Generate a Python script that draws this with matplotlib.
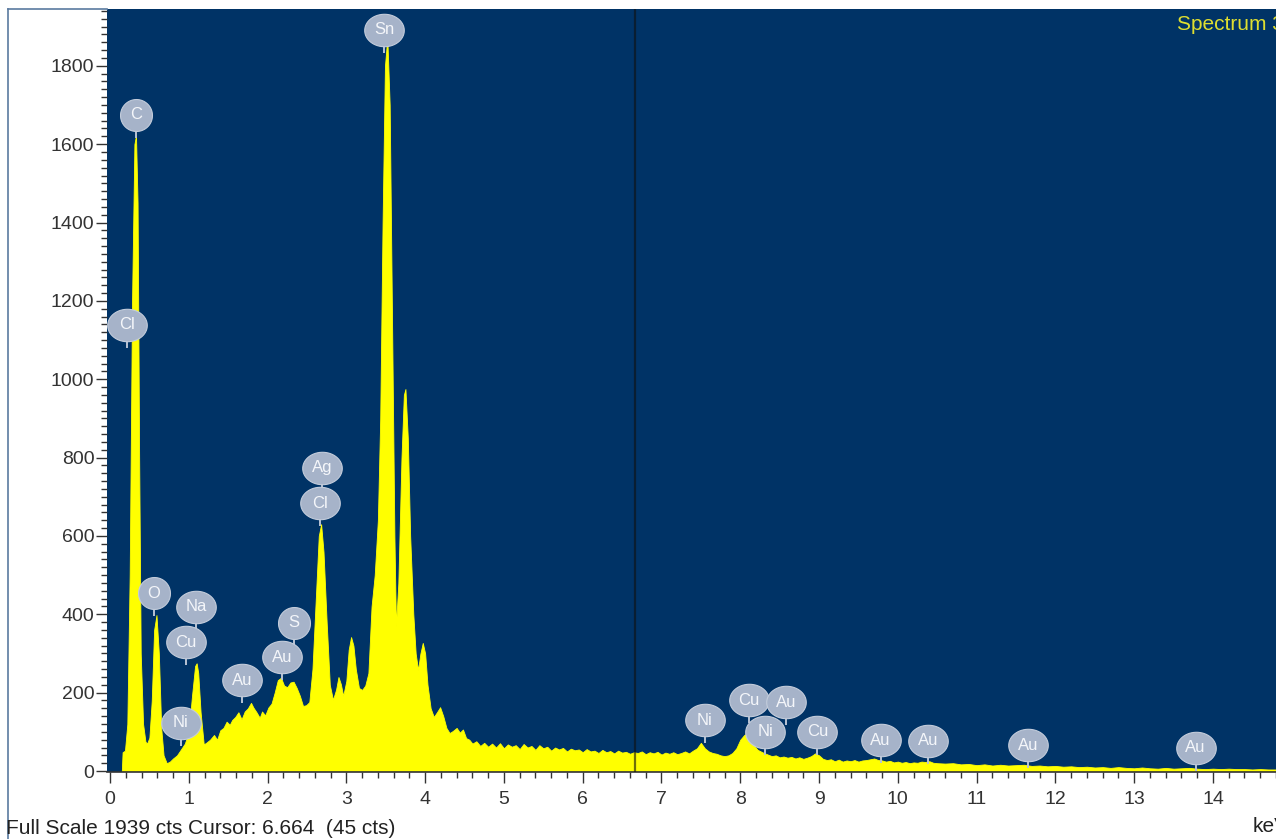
#!/usr/bin/env python3
"""
EDS spectrum plot: counts vs energy with element markers and cursor line.
Writes out.png.
"""

import matplotlib
matplotlib.use("Agg")
import matplotlib.pyplot as plt
from matplotlib.lines import Line2D
from matplotlib.path import Path
from matplotlib.transforms import offset_copy
import numpy as np

# Spectrum (keV, counts)
energy_kev = [
    0.15, 0.16, 0.19, 0.22, 0.25, 0.28, 0.31, 0.33, 0.35, 0.37, 0.39, 0.42,
    0.45, 0.47, 0.50, 0.53, 0.56, 0.59, 0.62, 0.65, 0.68, 0.72, 0.76, 0.80,
    0.85, 0.90, 0.95, 1.00, 1.04, 1.08, 1.10, 1.12, 1.15, 1.19, 1.22, 1.27,
    1.32, 1.36, 1.40, 1.44, 1.48, 1.52, 1.55, 1.59, 1.63, 1.67, 1.71, 1.75,
    1.79, 1.82, 1.86, 1.90, 1.93, 1.97, 2.01, 2.05, 2.09, 2.13, 2.17, 2.21,
    2.25, 2.29, 2.33, 2.37, 2.41, 2.45, 2.49, 2.53, 2.57, 2.61, 2.65, 2.68,
    2.71, 2.75, 2.79, 2.83, 2.87, 2.90, 2.93, 2.96, 3.00, 3.03, 3.06, 3.09,
    3.12, 3.16, 3.20, 3.24, 3.28, 3.32, 3.36, 3.40, 3.43, 3.46, 3.49, 3.52,
    3.55, 3.58, 3.61, 3.63, 3.66, 3.70, 3.73, 3.75, 3.78, 3.81, 3.85, 3.88,
    3.91, 3.94, 3.97, 4.00, 4.03, 4.07, 4.11, 4.15, 4.19, 4.23, 4.27, 4.31,
    4.35, 4.40, 4.44, 4.48, 4.52, 4.56, 4.60, 4.65, 4.70, 4.75, 4.80, 4.85,
    4.90, 4.95, 5.00, 5.05, 5.10, 5.15, 5.20, 5.25, 5.30, 5.35, 5.40, 5.45,
    5.50, 5.55, 5.60, 5.65, 5.70, 5.75, 5.80, 5.85, 5.90, 5.95, 6.00, 6.05,
    6.10, 6.15, 6.20, 6.25, 6.30, 6.35, 6.40, 6.45, 6.50, 6.55, 6.60, 6.65,
    6.70, 6.75, 6.80, 6.85, 6.90, 6.95, 7.00, 7.05, 7.10, 7.15, 7.20, 7.25,
    7.30, 7.35, 7.40, 7.45, 7.50, 7.55, 7.60, 7.65, 7.70, 7.75, 7.80, 7.85,
    7.90, 7.95, 8.00, 8.05, 8.09, 8.13, 8.18, 8.22, 8.26, 8.30, 8.35, 8.40,
    8.45, 8.50, 8.55, 8.60, 8.65, 8.70, 8.75, 8.80, 8.85, 8.90, 8.95, 9.00,
    9.05, 9.10, 9.15, 9.20, 9.25, 9.30, 9.35, 9.40, 9.45, 9.50, 9.55, 9.60,
    9.65, 9.70, 9.75, 9.80, 9.85, 9.90, 9.95, 10.00, 10.05, 10.10, 10.15,
    10.20, 10.25, 10.30, 10.35, 10.40, 10.45, 10.50, 10.60, 10.70, 10.80,
    10.90, 11.00, 11.10, 11.20, 11.30, 11.40, 11.50, 11.60, 11.70, 11.80,
    11.90, 12.00, 12.10, 12.20, 12.30, 12.40, 12.50, 12.60, 12.70, 12.80,
    12.90, 13.00, 13.10, 13.20, 13.30, 13.40, 13.50, 13.60, 13.70, 13.80,
    13.90, 14.00, 14.10, 14.20, 14.30, 14.40, 14.50, 14.60, 14.70, 14.80,
    14.90,
]
counts = [
    0, 48, 52, 120, 500, 1200, 1600, 1622, 1450, 800, 300, 120,
    75, 70, 85, 180, 360, 398, 300, 110, 40, 20, 24, 32,
    40, 55, 70, 100, 190, 268, 275, 250, 150, 68, 72, 80,
    92, 80, 104, 110, 126, 118, 130, 138, 150, 132, 152, 160,
    174, 162, 150, 136, 152, 142, 162, 172, 200, 232, 238, 218,
    214, 226, 228, 212, 192, 166, 168, 176, 260, 430, 600, 630,
    560, 380, 220, 182, 208, 240, 222, 192, 230, 310, 342, 320,
    260, 212, 207, 218, 250, 420, 500, 640, 900, 1400, 1800, 1870,
    1700, 1150, 600, 370, 480, 800, 960, 975, 850, 600, 400, 300,
    258, 300, 327, 300, 220, 160, 138, 150, 163, 140, 110, 97,
    102, 110, 98, 106, 84, 80, 70, 76, 64, 72, 62, 70,
    60, 71, 58, 68, 62, 66, 56, 69, 60, 64, 54, 66,
    58, 62, 52, 60, 55, 59, 50, 57, 53, 55, 48, 56,
    50, 52, 46, 54, 48, 51, 45, 52, 47, 49, 44, 48,
    46, 50, 43, 48, 45, 49, 42, 47, 44, 48, 43, 46,
    50, 45, 52, 58, 72, 58, 50, 46, 44, 40, 38, 40,
    46, 58, 80, 92, 97, 86, 64, 54, 50, 46, 42, 38,
    40, 35, 37, 34, 36, 32, 35, 31, 34, 38, 45, 40,
    31, 28, 30, 25, 29, 24, 27, 25, 28, 24, 27, 28,
    30, 32, 28, 27, 24, 26, 22, 24, 21, 23, 20,
    22, 21, 24, 23, 25, 21, 20, 19, 20, 17,
    18, 15, 17, 14, 16, 14, 15, 16, 13, 14,
    12, 13, 11, 12, 10, 11, 9, 10, 8, 10,
    8, 7, 9, 7, 6, 8, 6, 7, 8, 6,
    5, 6, 5, 6, 5, 5, 4, 5, 4, 4,
    4,
]

# Element markers: energy, badge height (cts), symbol
marker_kev = [0.33, 0.216, 0.558, 1.09, 0.965, 0.90, 1.675, 2.18, 2.335,
              2.69, 2.665, 3.48, 7.55, 8.11, 8.58, 8.32, 8.98, 9.78, 10.38,
              11.65, 13.78]
marker_cts = [1675, 1139, 454, 419, 329, 123, 232, 291, 378,
              774, 684, 1892, 130, 181, 176, 100, 100, 79, 77,
              66, 59]
marker_sym = ["C", "Cl", "O", "Na", "Cu", "Ni", "Au", "Au", "S",
              "Ag", "Cl", "Sn", "Ni", "Cu", "Au", "Ni", "Cu", "Au", "Au",
              "Au", "Au"]

full_scale = 1939
cursor_kev = 6.664
cursor_cts = 45
x_ticks = list(range(0, 15))
y_ticks = list(range(0, 2000, 200))

BG = "#003366"
YELLOW = "#ffff00"
BADGE = "#a6b3c9"
INK = "#333333"
FONT = ["Liberation Sans", "DejaVu Sans"]


def ellipse_marker(aspect):
    t = np.linspace(0, 2 * np.pi, 60)
    verts = np.column_stack([aspect * np.cos(t), np.sin(t)])
    return Path(verts, closed=True)


def plot():
    plt.rcParams["font.family"] = FONT
    fig = plt.figure(figsize=(12.76, 8.39), dpi=100)
    fig.patch.set_facecolor("white")
    ax = fig.add_axes([107 / 1276, 67 / 839, 1169 / 1276, 763 / 839])
    ax.set_facecolor(BG)

    ax.fill_between(energy_kev, counts, 0, color=YELLOW, lw=0.6,
                    edgecolor=YELLOW, zorder=2)

    # cursor, semi-transparent so it tints the fill
    ax.axvline(cursor_kev, color="#101010", alpha=0.6, lw=1.6, zorder=3)

    # element badges: ellipse + stem + symbol
    stem_tr = offset_copy(ax.transData, fig=fig, x=0, y=-19, units="dots")
    ax.plot(marker_kev, marker_cts, ls="none", marker="|", ms=6, mew=1.4,
            color="#b9c3d4", transform=stem_tr, zorder=4)
    for e, c, s in zip(marker_kev, marker_cts, marker_sym):
        wide = len(s) > 1
        m = ellipse_marker(1.22 if wide else 1.0)
        size = 28.5 if wide else 23.0
        ax.plot([e], [c], ls="none", marker=m, ms=size, mfc=BADGE,
                mec="#c3ccdb", mew=0.8, zorder=5)
        ax.text(e, c, s, ha="center", va="center", color="#f4f6fa",
                fontsize=12, zorder=6)

    ax.set_xlim(-0.038, 14.8)
    ax.set_ylim(-2.5, 1945)
    ax.set_xticks(x_ticks)
    ax.set_yticks(y_ticks)
    ax.set_xticks(np.arange(0, 14.81, 0.2), minor=True)
    ax.set_yticks(np.arange(0, 1941, 20), minor=True)
    ax.tick_params(axis="both", which="major", length=8, width=1,
                   color=INK, labelsize=14, labelcolor=INK,
                   direction="out")
    ax.tick_params(axis="both", which="minor", length=4, width=1,
                   color=INK, direction="out")
    ax.tick_params(axis="x", pad=6)
    ax.tick_params(axis="y", pad=1)

    for side in ("top", "right", "left"):
        ax.spines[side].set_visible(False)
    ax.spines["bottom"].set_color(INK)
    ax.spines["bottom"].set_linewidth(1.2)

    # outer frame (left and top edges)
    fig.add_artist(Line2D([8 / 1276, 8 / 1276], [0, 1 - 9 / 839],
                          color="#5a7aa0", lw=1.2))
    fig.add_artist(Line2D([8 / 1276, 107 / 1276], [1 - 9 / 839, 1 - 9 / 839],
                          color="#5a7aa0", lw=1.2))

    fig.text(1177 / 1276, 1 - 25 / 839, "Spectrum 3", color="#dede30",
             fontsize=15, ha="left", va="center")
    fig.text(6 / 1276, 10 / 839,
             f"Full Scale {full_scale} cts Cursor: {cursor_kev:.3f}  ({cursor_cts} cts)",
             color="#222222", fontsize=15, ha="left", va="center")
    fig.text(1253 / 1276, 12 / 839, "keV", color="#222222", fontsize=15,
             ha="left", va="center")

    fig.savefig("out.png", dpi=100, facecolor="white")


if __name__ == "__main__":
    plot()
